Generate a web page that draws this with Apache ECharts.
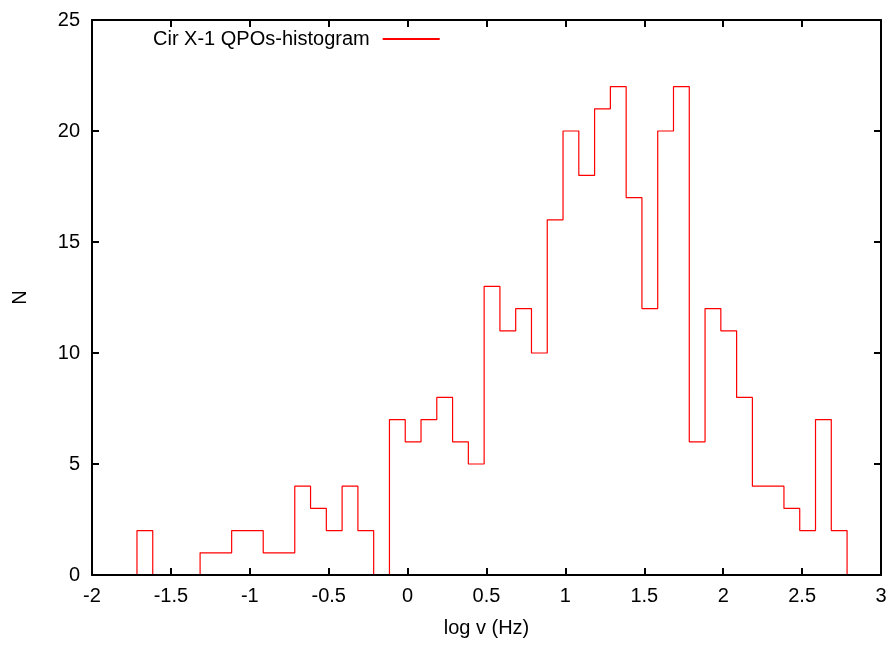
<!DOCTYPE html>
<html>
<head>
<meta charset="utf-8">
<script src="https://cdn.jsdelivr.net/npm/echarts@6/dist/echarts.min.js"></script>
<style>html,body{margin:0;padding:0;background:#fff}#c{width:896px;height:646px}</style>
</head>
<body>
<div id="c"></div>
<script>
// Histogram definition
const binStart = -1.715;
const binWidth = 0.1;
const counts = [2,0,0,0,1,1,2,2,1,1,4,3,2,4,2,0,7,6,7,8,6,5,13,11,12,10,16,20,18,21,22,17,12,20,22,6,12,11,8,4,4,3,2,7,2];
const xTicks = [-2,-1.5,-1,-0.5,0,0.5,1,1.5,2,2.5,3];
const yTicks = [0,5,10,15,20,25];
const seriesName = 'Cir X-1 QPOs-histogram';

const edges = [];
for (let i = 0; i <= counts.length; i++) edges.push(+(binStart + i * binWidth).toFixed(4));
const stepData = [[edges[0], 0]];
counts.forEach((c, i) => stepData.push([edges[i], c]));
stepData.push([edges[counts.length], 0]);

const font = 'Liberation Sans, Arial, Helvetica, sans-serif';
const fs = 20;
const axisLine = {show: true, onZero: false, lineStyle: {color: '#000', width: 2}};
const tick = {show: true, inside: true, length: 7, lineStyle: {color: '#000', width: 2}};

const chart = echarts.init(document.getElementById('c'), null, {renderer: 'canvas'});
chart.setOption({
  animation: false,
  backgroundColor: '#fff',
  grid: {left: 92, right: 15, top: 20, bottom: 71, containLabel: false},
  legend: {
    show: true, left: 148, top: 24, align: 'right', itemWidth: 57, itemHeight: 2, itemGap: 0,
    icon: 'rect',
    textStyle: {fontFamily: font, fontSize: fs, color: '#000', padding: [0, 8, 0, 0]},
    data: [{name: seriesName, itemStyle: {color: '#ff0000'}}]
  },
  xAxis: [{
    type: 'value', min: -2, max: 3, interval: 0.5, position: 'bottom', z: 10,
    name: 'log v (Hz)', nameLocation: 'middle', nameGap: 43,
    nameTextStyle: {fontFamily: font, fontSize: fs, color: '#000'},
    axisLine: axisLine, axisTick: tick, splitLine: {show: false},
    axisLabel: {fontFamily: font, fontSize: fs, color: '#000', margin: 11,
      formatter: v => xTicks.includes(v) ? String(v) : ''}
  }, {
    type: 'value', min: -2, max: 3, interval: 0.5, position: 'top', z: 10,
    axisLine: axisLine, axisTick: tick, splitLine: {show: false}, axisLabel: {show: false}
  }],
  yAxis: [{
    type: 'value', min: 0, max: 25, interval: 5, position: 'left', z: 10,
    name: 'N', nameLocation: 'middle', nameGap: 62, nameRotate: 90,
    nameTextStyle: {fontFamily: font, fontSize: fs, color: '#000'},
    axisLine: axisLine, axisTick: tick, splitLine: {show: false},
    axisLabel: {fontFamily: font, fontSize: fs, color: '#000', margin: 12,
      formatter: v => yTicks.includes(v) ? String(v) : ''}
  }, {
    type: 'value', min: 0, max: 25, interval: 5, position: 'right', z: 10,
    axisLine: axisLine, axisTick: tick, splitLine: {show: false}, axisLabel: {show: false}
  }],
  series: [{
    name: seriesName, type: 'line', step: 'end', data: stepData,
    xAxisIndex: 0, yAxisIndex: 0,
    showSymbol: false, symbol: 'none',
    lineStyle: {color: '#ff0000', width: 1.2},
    itemStyle: {color: '#ff0000'},
    z: 1
  }]
});
</script>
</body>
</html>
